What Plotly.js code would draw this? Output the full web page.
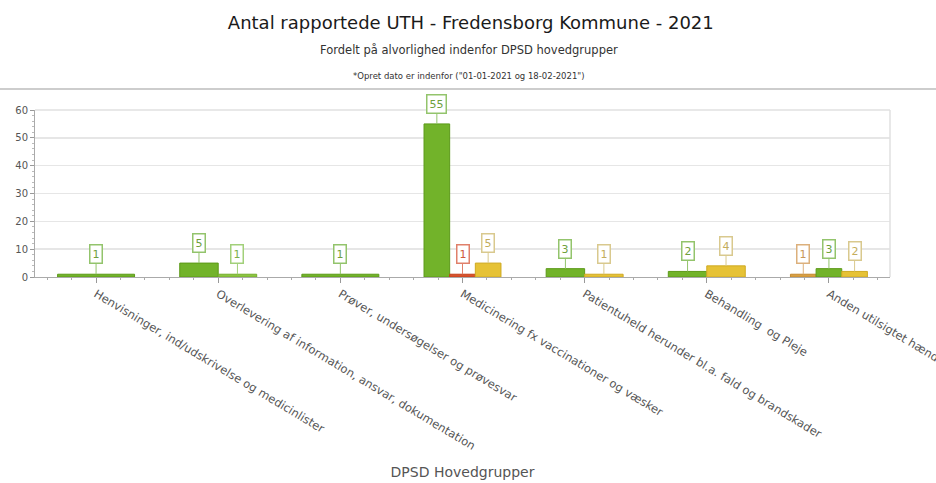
<!DOCTYPE html>
<html>
<head>
<meta charset="utf-8">
<script src="https://cdn.plot.ly/plotly-3.0.1.min.js"></script>
<style>html,body{margin:0;padding:0;background:#fff;}#chart{width:936px;height:483px;}</style>
</head>
<body>
<div id="chart"></div>
<script>
// ---- data ----
const categories = [
  "Henvisninger, ind/udskrivelse og medicinlister",
  "Overlevering af information, ansvar, dokumentation",
  "Prøver, undersøgelser og prøvesvar",
  "Medicinering fx vaccinationer og væsker",
  "Patientuheld herunder bl.a. fald og brandskader",
  "Behandling  og Pleje",
  "Anden utilsigtet hændelse"
];
const seriesNames = ["Ikke angivet", "Ingen skade", "Mild", "Alvorlig", "Moderat"];
const ikkeAngivet = [null, null, null, null, null, null, 1];
const ingenSkade  = [1, 5, 1, 55, 3, 2, 3];
const mild        = [null, 1, null, null, null, null, null];
const alvorlig    = [null, null, null, 1, null, null, null];
const moderat     = [null, null, null, 5, 1, 4, 2];
const yTicks = [0, 10, 20, 30, 40, 50, 60];

// ---- styles ----
const barColors   = ["#d9a042", "#72b32a", "#8cc640", "#d9532c", "#e6c236"];
const lineColors  = ["#c48a30", "#5c9a18", "#74ac2c", "#c2401c", "#cfaa22"];
const labelBorder = ["#dcb07c", "#93c46c", "#a2d07a", "#e0806a", "#d9c98e"];
const labelText   = ["#c8975a", "#6fa03c", "#7cb04a", "#d05a3c", "#c4ad5c"];
const FONT = "DejaVu Sans, Verdana, sans-serif";

const allSeries = [ikkeAngivet, ingenSkade, mild, alvorlig, moderat];
const groupWidth = 0.63;

const traces = [];
const annotations = [];
const offsets = allSeries.map(() => []);
const widths = allSeries.map(() => []);
categories.forEach((c, i) => {
  const present = allSeries.map((s, k) => (s[i] != null ? k : -1)).filter(k => k >= 0);
  const w = groupWidth / present.length;
  present.forEach((k, j) => {
    offsets[k][i] = -groupWidth / 2 + j * w;
    widths[k][i] = w;
  });
});

allSeries.forEach((s, k) => {
  const xs = [], ys = [], offs = [], ws = [];
  s.forEach((v, i) => {
    if (v == null) return;
    xs.push(i); ys.push(v); offs.push(offsets[k][i]); ws.push(widths[k][i]);
    annotations.push({
      x: i + offsets[k][i] + widths[k][i] / 2, y: v, xref: 'x', yref: 'y',
      text: String(v), showarrow: true, arrowhead: 0, arrowwidth: 1,
      arrowcolor: labelBorder[k], ax: 0, ay: -20, standoff: 0,
      bordercolor: labelBorder[k], borderwidth: 1.5, borderpad: 2,
      bgcolor: '#ffffff', font: {family: FONT, size: 11, color: labelText[k]}
    });
  });
  traces.push({
    type: 'bar', name: seriesNames[k], x: xs, y: ys, offset: offs, width: ws,
    marker: {color: barColors[k], line: {color: lineColors[k], width: 1}},
    hoverinfo: 'y'
  });
});

// titles
annotations.push({
  xref: 'paper', yref: 'paper', x: 0.5076, y: 1.359, yanchor: 'middle', showarrow: false,
  text: "Fordelt på alvorlighed indenfor DPSD hovedgrupper",
  font: {family: FONT, size: 11.5, color: '#333'}
});
annotations.push({
  xref: 'paper', yref: 'paper', x: 0.5076, y: 1.204, yanchor: 'middle', showarrow: false,
  text: "*Opret dato er indenfor (\"01-01-2021 og 18-02-2021\")",
  font: {family: FONT, size: 8.5, color: '#333'}
});

const layout = {
  width: 936, height: 483,
  margin: {l: 35, r: 46, t: 110, b: 206},
  paper_bgcolor: '#fff', plot_bgcolor: '#fff',
  showlegend: false, barmode: 'overlay',
  title: {
    text: "Antal rapportede UTH - Fredensborg Kommune - 2021",
    x: 0.503, xanchor: 'center', y: 0.954, yanchor: 'middle', yref: 'container',
    font: {family: FONT, size: 18, color: '#1a1a1a'}
  },
  xaxis: {
    type: 'linear', range: [-0.5, 6.5],
    tickvals: categories.map((c, i) => i), ticktext: categories,
    tickangle: 31, ticks: 'outside', ticklen: 5, tickcolor: '#999',
    ticklabeloverflow: 'allow',
    minor: {dtick: 0.2, tick0: 0, ticks: 'outside', ticklen: 2, tickcolor: '#aaa', showgrid: false},
    showgrid: false, zeroline: false,
    showline: true, linecolor: '#aaa', linewidth: 1, mirror: false,
    tickfont: {family: FONT, size: 11.5, color: '#555'},
    title: {text: "DPSD Hovedgrupper", standoff: 15, font: {family: FONT, size: 14, color: '#555'}},
    automargin: false, fixedrange: true
  },
  yaxis: {
    range: [0, 60], tickvals: yTicks,
    ticks: 'outside', ticklen: 4, tickcolor: '#999',
    minor: {dtick: 2, ticks: 'outside', ticklen: 2, tickcolor: '#bbb', showgrid: false},
    showgrid: true, gridcolor: '#e6e6e6', gridwidth: 1.5, zeroline: false,
    showline: true, linecolor: '#aaa', linewidth: 1,
    tickfont: {family: FONT, size: 10, color: '#555'},
    automargin: false, fixedrange: true
  },
  shapes: [
    {type: 'line', xref: 'paper', yref: 'paper', x0: 0, x1: 1, y0: 1, y1: 1, line: {color: '#e0e0e0', width: 1.5}},
    {type: 'line', xref: 'paper', yref: 'paper', x0: 1, x1: 1, y0: 0, y1: 1, line: {color: '#e0e0e0', width: 1.5}},
    {type: 'line', xref: 'paper', yref: 'paper', x0: -0.05, x1: 1.06, y0: 1.1257, y1: 1.1257, line: {color: '#bdbdbd', width: 1.5}}
  ],
  annotations: annotations
};

Plotly.newPlot('chart', traces, layout, {displayModeBar: false, staticPlot: true});
</script>
</body>
</html>
